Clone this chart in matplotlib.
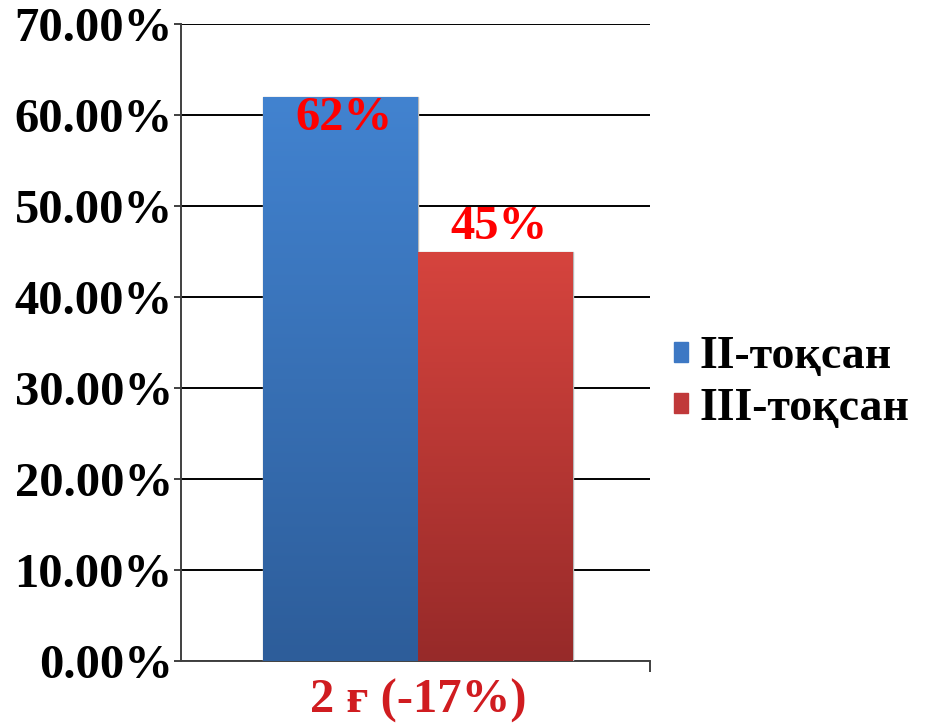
import numpy as np
import matplotlib.pyplot as plt
from matplotlib.colors import LinearSegmentedColormap

# data
category = ['2 ғ (-17%)']
series = ['II-тоқсан', 'III-тоқсан']
values = [62, 45]
value_labels = ['62%', '45%']
yticks = [0, 10, 20, 30, 40, 50, 60, 70]

plt.rcParams['font.family'] = ['Liberation Serif', 'DejaVu Serif']
plt.rcParams['font.weight'] = 'bold'
FS = 35

fig = plt.figure(figsize=(9.34, 7.26), dpi=100)
ax = fig.add_axes([181/934, 65/726, 469/934, 637/726])

grads = [('#4283d0', '#2d5d9a'), ('#d6443e', '#972a29')]
solid = ['#3d78c4', '#c0393a']
w = 0.33
x0 = 0
offs = [-w/2, w/2]
for i in range(2):
    b = ax.bar(x0 + offs[i], values[i], width=w, color=solid[i],
               edgecolor='#b8b8b8', linewidth=1.0, zorder=3)
    patch = b.patches[0]
    cmap = LinearSegmentedColormap.from_list('g%d' % i, [grads[i][1], grads[i][0]])
    grad = np.linspace(0, 1, 256).reshape(-1, 1)
    im = ax.imshow(grad, cmap=cmap, aspect='auto', origin='lower',
                   extent=[x0 + offs[i] - w/2, x0 + offs[i] + w/2, 0, values[i]],
                   zorder=3.5)
    im.set_clip_path(patch)

# value labels
lab_y = [values[0] - 3.6, values[1] + 1.4]
for i in range(2):
    ax.text(x0 + offs[i] + 0.008, lab_y[i], value_labels[i], color='#ff0000',
            fontsize=FS, fontweight='bold', ha='center', va='baseline', zorder=5)

ax.set_xlim(-0.505, 0.495)
ax.set_ylim(0, 70)
ax.set_yticks(yticks)
ax.set_yticklabels(['%.2f%%' % v for v in yticks], fontsize=FS, fontweight='bold')
ax.yaxis.grid(True, color='black', linewidth=1.4, zorder=0)
ax.set_axisbelow(True)

ax.set_xticks([0])
ax.set_xticklabels(category, fontsize=FS, fontweight='bold', color='#d01c20')
ax.tick_params(axis='x', length=0, pad=13)
ax.set_xticks([0.495], minor=True)
ax.tick_params(axis='x', which='minor', length=8, width=1.4, color='#404040', direction='out')
ax.tick_params(axis='y', length=5, width=1.4, color='#404040', pad=1, direction='out')

for s in ['top', 'right']:
    ax.spines[s].set_visible(False)
for s in ['left', 'bottom']:
    ax.spines[s].set_color('#404040')
    ax.spines[s].set_linewidth(1.4)

handles = [plt.Rectangle((0, 0), 1, 1, color=c) for c in solid]
fig.legend(handles, series, loc='center left', bbox_to_anchor=(674/934, (726-383)/726),
           frameon=False, prop={'size': 33, 'weight': 'bold'},
           handlelength=0.3, handleheight=0.3, handletextpad=0.25,
           labelspacing=0.2, borderpad=0, borderaxespad=0)

fig.savefig('out.png', dpi=100)
